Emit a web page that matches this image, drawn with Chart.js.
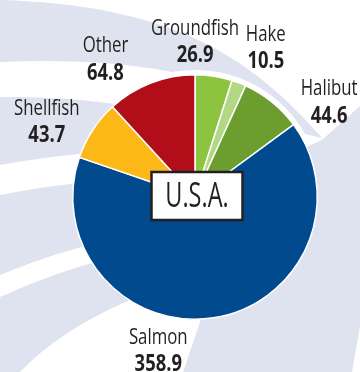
<!DOCTYPE html>
<html>
<head>
<meta charset="utf-8">
<script src="https://cdn.jsdelivr.net/npm/chart.js@4/dist/chart.umd.min.js"></script>
<style>
  html, body { margin: 0; padding: 0; background: #fff; }
  canvas { display: block; }
</style>
</head>
<body>
<canvas id="chart" width="360" height="372"></canvas>
<script>
// Catch by species group
const categories = ["Groundfish", "Hake", "Halibut", "Salmon", "Shellfish", "Other"];
const catchValues = [26.9, 10.5, 44.6, 358.9, 43.7, 64.8];
const sliceColors = ["#8cc43f", "#b3d885", "#6b9e2f", "#024a8e", "#fbb817", "#b10e1a"];
const regionName = "U.S.A.";

// hand placement of the outside labels: [angle shift in degrees, gap beyond the rim]
const labelPlacement = [[-8.8, 33], [4.3, 43], [15.6, 42], [22.1, 36], [-6.3, 44], [-11.8, 42]];

const LAVENDER = "#dfe2ef";
const INK = "#231f20";
const FONT = "'Open Sans', 'Noto Sans', sans-serif";

// condensed look: squeeze the text horizontally
function narrowText(ctx, text, x, y, font, squeeze) {
    ctx.save();
    ctx.font = font;
    ctx.translate(x, y);
    ctx.scale(squeeze, 1);
    ctx.fillText(text, 0, 0);
    ctx.restore();
}

// swoosh background behind the pie
const backdrop = {
    id: "backdrop",
    beforeDraw(chart) {
        const ctx = chart.ctx;
        const arc = chart.getDatasetMeta(0).data[0];
        const cx = arc.x, cy = arc.y;
        ctx.save();
        ctx.fillStyle = "#fff";
        ctx.fillRect(0, 0, chart.width, chart.height);
        ctx.fillStyle = LAVENDER;

        // top band curving round the top of the pie
        ctx.beginPath();
        ctx.moveTo(0, 0);
        ctx.bezierCurveTo(170, 5, 250, 55, 322, 138);
        ctx.lineTo(305, 134);
        ctx.arc(cx, cy, 127, -0.52, -1.75, true);
        ctx.quadraticCurveTo(100, 58, 0, 62);
        ctx.closePath();
        ctx.fill();

        // right-hand field
        ctx.beginPath();
        ctx.moveTo(322, 140);
        ctx.lineTo(360, 106);
        ctx.lineTo(360, 372);
        ctx.lineTo(183, 372);
        ctx.lineTo(200, 322);
        ctx.lineTo(cx, cy);
        ctx.closePath();
        ctx.fill();

        // left-hand field
        ctx.beginPath();
        ctx.moveTo(0, 97);
        ctx.quadraticCurveTo(60, 96, 115, 104);
        ctx.lineTo(cx, cy);
        ctx.lineTo(130, 300);
        ctx.quadraticCurveTo(60, 330, 20, 372);
        ctx.lineTo(0, 372);
        ctx.closePath();
        ctx.fill();

        // white stripes across the left field
        ctx.fillStyle = "#fff";
        ctx.beginPath();
        ctx.moveTo(0, 165);
        ctx.quadraticCurveTo(50, 156, 100, 152);
        ctx.lineTo(100, 181);
        ctx.quadraticCurveTo(50, 185, 0, 195);
        ctx.closePath();
        ctx.fill();

        ctx.beginPath();
        ctx.moveTo(0, 275);
        ctx.quadraticCurveTo(55, 252, 110, 240);
        ctx.lineTo(110, 258);
        ctx.quadraticCurveTo(55, 272, 0, 297);
        ctx.closePath();
        ctx.fill();

        // thin stripe on the right edge
        ctx.beginPath();
        ctx.moveTo(360, 327);
        ctx.lineTo(360, 372);
        ctx.lineTo(352, 372);
        ctx.closePath();
        ctx.fill();
        ctx.restore();
    }
};

// species names and values around the pie, plus the boxed region name
const pieLabels = {
    id: "pieLabels",
    afterDraw(chart) {
        const ctx = chart.ctx;
        const arcs = chart.getDatasetMeta(0).data;
        ctx.save();
        ctx.fillStyle = INK;
        ctx.textAlign = "center";
        ctx.textBaseline = "middle";
        arcs.forEach((arc, i) => {
            const p = arc.getProps(["x", "y", "startAngle", "endAngle", "outerRadius"], true);
            const [shift, gap] = labelPlacement[i];
            const a = (p.startAngle + p.endAngle) / 2 + shift * Math.PI / 180;
            const r = p.outerRadius + gap;
            const lx = p.x + Math.cos(a) * r;
            const ly = p.y + Math.sin(a) * r;
            narrowText(ctx, categories[i], lx, ly - 13, "21px " + FONT, 0.8);
            narrowText(ctx, catchValues[i].toFixed(1), lx, ly + 14, "bold 23px " + FONT, 0.8);
        });

        const bx = arcs[0].x + 2, by = arcs[0].y - 1;
        const w = 91, h = 48;
        ctx.fillStyle = "#fff";
        ctx.fillRect(bx - w / 2, by - h / 2, w, h);
        ctx.strokeStyle = INK;
        ctx.lineWidth = 2.5;
        ctx.strokeRect(bx - w / 2, by - h / 2, w, h);
        ctx.fillStyle = INK;
        narrowText(ctx, regionName, bx, by + 1, "34px " + FONT, 0.69);
        ctx.restore();
    }
};

new Chart(document.getElementById("chart"), {
    type: "pie",
    data: {
        labels: categories,
        datasets: [{
            data: catchValues,
            backgroundColor: sliceColors,
            borderColor: "#fff",
            borderWidth: 1.5
        }]
    },
    options: {
        responsive: false,
        animation: false,
        layout: { padding: { left: 72, right: 42, top: 74, bottom: 52 } },
        plugins: {
            legend: { display: false },
            tooltip: { enabled: false }
        }
    },
    plugins: [backdrop, pieLabels]
});
</script>
</body>
</html>
